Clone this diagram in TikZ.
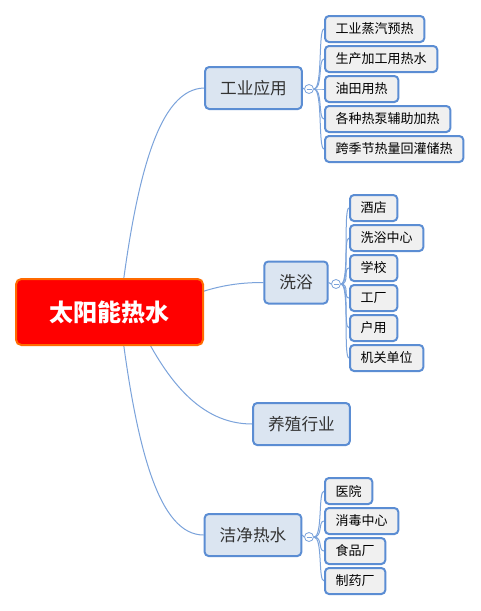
\documentclass[tikz,border=0pt]{standalone}
\usepackage{fontspec}
\setmainfont{Noto Sans CJK SC}
\usetikzlibrary{backgrounds,calc}
\definecolor{topicfill}{HTML}{DBE5F1}
\definecolor{boxblue}{HTML}{5B8DD3}
\definecolor{lineblue}{HTML}{7BA3DB}
\definecolor{leafgray}{HTML}{F0F0F0}
\definecolor{rootedge}{HTML}{FF6A00}
\begin{document}
\begin{tikzpicture}[x=0.75pt, y=-0.75pt,
    rootbox/.style={draw=rootedge, fill=red, line width=1.5pt, rounded corners=4pt, minimum width=140.25pt, minimum height=49.5pt, text=white, font=\fontsize{18}{20}\selectfont\bfseries},
    topic/.style={draw=boxblue, fill=topicfill, line width=1.5pt, rounded corners=3pt, minimum height=31.5pt, inner xsep=11.25pt, text=black!80, font=\fontsize{12.5}{14}\selectfont},
    leaf/.style={draw=boxblue, fill=leafgray, line width=1.5pt, rounded corners=3pt, minimum height=19.5pt, inner xsep=8pt, anchor=west, font=\fontsize{9.75}{11}\selectfont},
    fold/.style={circle, draw=lineblue, fill=white, line width=0.6pt, minimum size=6.75pt, inner sep=0pt,
      path picture={\draw[lineblue, line width=0.6pt] ($(path picture bounding box.west)+(2,0)$) -- ($(path picture bounding box.east)+(-2,0)$);}},
    link/.style={draw=lineblue, line width=0.75pt},
    branch/.style={link, to path={.. controls +(9,0) and +(-6,0) .. (\tikztotarget)}}
  ]
  \path[use as bounding box] (0,0) rectangle (481,611);

  % Centre
  \node[rootbox] (root) at (109.5,312) {太阳能热水};

  % Main topics
  \node[topic] (ind) at (253.5,88) {工业应用};
  \node[topic] (bath) at (296,282.5) {洗浴};
  \node[topic] (farm) at (301.5,424) {养殖行业};
  \node[topic] (clean) at (253,535) {洁净热水};

  % Collapse marks
  \node[fold] (indfold) at (309,89) {};
  \node[fold] (bathfold) at (336,284) {};
  \node[fold] (cleanfold) at (309,537) {};

  % Industrial uses
  \node[leaf] (ind1) at (324,29) {工业蒸汽预热};
  \node[leaf] (ind2) at (324,59) {生产加工用热水};
  \node[leaf] (ind3) at (324,89) {油田用热};
  \node[leaf] (ind4) at (324,119) {各种热泵辅助加热};
  \node[leaf] (ind5) at (324,149) {跨季节热量回灌储热};

  % Bathing
  \node[leaf] (bath1) at (349,208) {酒店};
  \node[leaf] (bath2) at (349,238) {洗浴中心};
  \node[leaf] (bath3) at (349,268) {学校};
  \node[leaf] (bath4) at (349,298) {工厂};
  \node[leaf] (bath5) at (349,328) {户用};
  \node[leaf] (bath6) at (349,358) {机关单位};

  % Clean hot water
  \node[leaf] (clean1) at (324,491) {医院};
  \node[leaf] (clean2) at (324,521) {消毒中心};
  \node[leaf] (clean3) at (324,551) {食品厂};
  \node[leaf] (clean4) at (324,581) {制药厂};

  % Connectors
  \begin{scope}[on background layer]
    \fill[white] (0,0) rectangle (481,611);
    \draw[link] ($(root.center)+(8,18)$) .. controls (135,170) and (160,89) .. (ind.west);
    \draw[link] ($(root.center)+(60.5,-7)$) .. controls (210,285) and (240,282.5) .. (bath.west);
    \draw[link] ($(root.center)+(25.5,3)$) .. controls (165,380) and (200,424) .. (farm.west);
    \draw[link] ($(root.center)+(8,-18)$) .. controls (135,454) and (160,535) .. (clean.west);

    \draw[link] (ind.east) -- (indfold.west);
    \draw[link] (bath.east) -- (bathfold.west);
    \draw[link] (clean.east) -- (cleanfold.west);

    \draw[branch] (indfold.east) to (ind1.west);
    \draw[branch] (indfold.east) to (ind2.west);
    \draw[branch] (indfold.east) to (ind3.west);
    \draw[branch] (indfold.east) to (ind4.west);
    \draw[branch] (indfold.east) to (ind5.west);

    \draw[branch] (bathfold.east) to (bath1.west);
    \draw[branch] (bathfold.east) to (bath2.west);
    \draw[branch] (bathfold.east) to (bath3.west);
    \draw[branch] (bathfold.east) to (bath4.west);
    \draw[branch] (bathfold.east) to (bath5.west);
    \draw[branch] (bathfold.east) to (bath6.west);

    \draw[branch] (cleanfold.east) to (clean1.west);
    \draw[branch] (cleanfold.east) to (clean2.west);
    \draw[branch] (cleanfold.east) to (clean3.west);
    \draw[branch] (cleanfold.east) to (clean4.west);
  \end{scope}
\end{tikzpicture}
\end{document}
